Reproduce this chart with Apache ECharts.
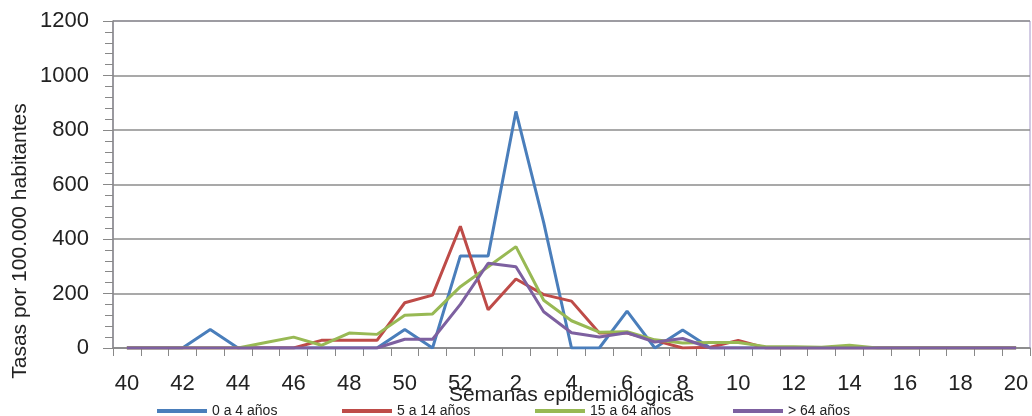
<!DOCTYPE html>
<html>
<head>
<meta charset="utf-8">
<script src="https://cdn.jsdelivr.net/npm/echarts@6/dist/echarts.min.js"></script>
<style>html,body{margin:0;padding:0;background:#fff}#c{width:1032px;height:416px}</style>
</head>
<body>
<div id="c"></div>
<script>
const weeks = ['40','41','42','43','44','45','46','47','48','49','50','51','52','1','2','3','4','5','6','7','8','9','10','11','12','13','14','15','16','17','18','19','20'];
const seriesNames = ['0 a 4 años','5 a 14 años','15 a 64 años','> 64 años'];
const age0to4 =   [0,0,0,68,0,0,0,0,0,0,68,0,338,338,868,460,0,0,135,0,66,0,0,0,0,0,0,0,0,0,0,0,0];
const age5to14 =  [0,0,0,0,0,0,0,28,28,28,166,194,447,140,253,196,172,55,55,28,0,3,28,0,0,0,0,0,0,0,0,0,0];
const age15to64 = [0,0,0,0,0,20,40,10,55,50,120,125,225,298,372,175,100,58,60,30,18,20,20,5,5,3,10,0,0,0,0,0,0];
const age64plus = [0,0,0,0,0,0,0,0,0,0,32,32,160,311,298,133,56,40,56,22,35,0,0,0,0,0,0,0,0,0,0,0,0];
const yTicks = [0,200,400,600,800,1000,1200];
const colors = ['#4a7ebb','#be4b48','#98b954','#7d60a0'];
const font = '"Liberation Sans Narrow","Liberation Sans",Arial,sans-serif';

const chart = echarts.init(document.getElementById('c'), null, {renderer:'canvas'});
const values = [age0to4, age5to14, age15to64, age64plus];
const legendLefts = [152, 337, 530, 728];
chart.setOption({
  animation:false,
  color: colors,
  grid:{left:113, top:21, right:2, bottom:68, containLabel:false, outerBoundsMode:'none',
        show:true, borderColor:'#a496c8', borderWidth:1, backgroundColor:'transparent'},
  legend: seriesNames.map((n,i)=>({
    data:[n], left: legendLefts[i], top: 399, itemWidth:50, itemHeight:4, itemGap:6,
    icon:'rect', textStyle:{fontFamily:font, fontSize:14, color:'#222'}
  })),
  xAxis:{
    type:'category', data: weeks, boundaryGap:true,
    name:'Semanas epidemiológicas', nameLocation:'middle', nameGap:37, nameMoveOverlap:false,
    nameTextStyle:{fontFamily:font, fontSize:21, color:'#222'},
    axisLine:{lineStyle:{color:'#888', width:1.5}},
    axisTick:{show:true, interval:0, length:8, lineStyle:{color:'#888'}},
    axisLabel:{interval:1, margin:25, fontFamily:font, fontSize:22, color:'#222'},
    splitLine:{show:false}
  },
  yAxis:{
    type:'value', min:0, max:1200, interval:200,
    axisLine:{show:true, lineStyle:{color:'#888', width:1.5}},
    axisTick:{show:true, length:10, lineStyle:{color:'#888'}},
    minorTick:{show:true, splitNumber:5, length:8, lineStyle:{color:'#888'}},
    axisLabel:{margin:24, fontFamily:font, fontSize:22, color:'#222', formatter:v=>yTicks.includes(v)?String(v):''},
    splitLine:{show:true, lineStyle:{color:'#8c8c8c', width:1.5}}
  },
  graphic:[{
    type:'text', x:20, y:241, rotation:Math.PI/2,
    style:{text:'Tasas por 100.000 habitantes', font:'21px '+font, fill:'#222', align:'center', verticalAlign:'middle'}
  }],
  series: seriesNames.map((n,i)=>({
    name:n, type:'line', data: values[i], symbol:'none', smooth:false,
    lineStyle:{width:3, color:colors[i]}, itemStyle:{color:colors[i]}
  }))
});
</script>
</body>
</html>
